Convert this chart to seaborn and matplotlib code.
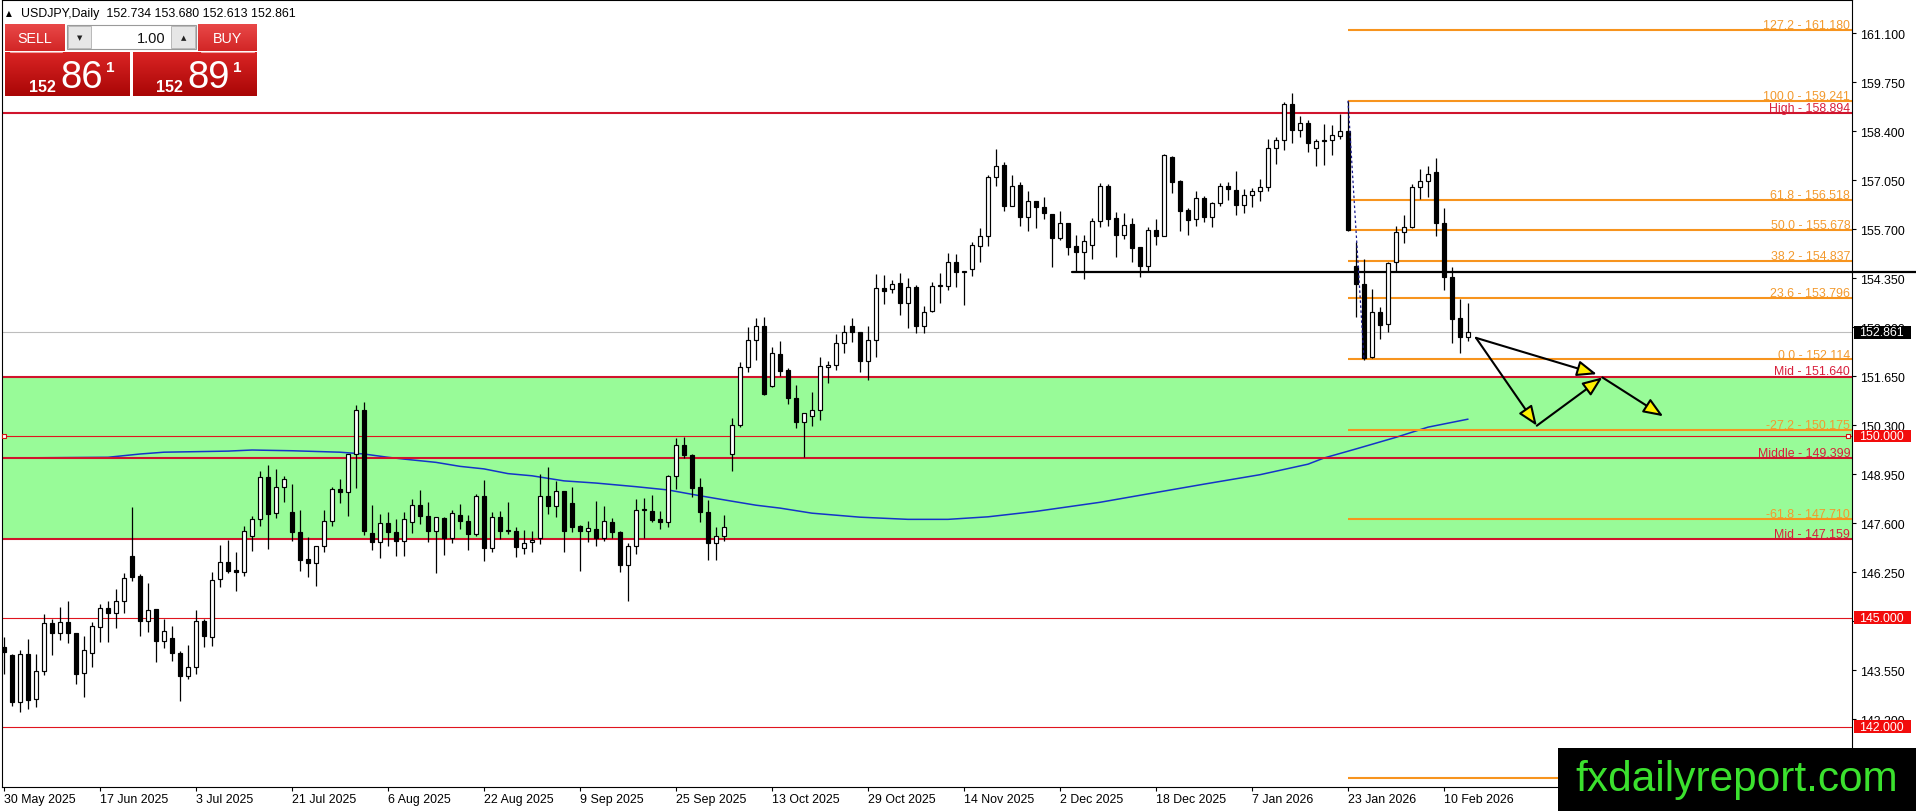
import numpy as np
import pandas as pd
import matplotlib
matplotlib.use("Agg")
import matplotlib.pyplot as plt
import matplotlib.transforms as mtransforms
from matplotlib.patches import Rectangle
from matplotlib.colors import LinearSegmentedColormap
import seaborn as sns

# ---------------- data ----------------
date_labels = ["30 May 2025", "17 Jun 2025", "3 Jul 2025", "21 Jul 2025", "6 Aug 2025",
               "22 Aug 2025", "9 Sep 2025", "25 Sep 2025", "13 Oct 2025", "29 Oct 2025",
               "14 Nov 2025", "2 Dec 2025", "18 Dec 2025", "7 Jan 2026", "23 Jan 2026",
               "10 Feb 2026"]

opens = [144.18, 143.97, 142.69, 143.99, 142.76, 143.52, 144.855, 144.57, 144.87, 144.57,
         143.47, 144.02, 144.735, 145.26, 145.12, 145.45, 146.71, 146.16, 144.92, 145.24,
         144.37, 144.43, 144.02, 143.40, 143.63, 144.90, 144.46, 146.07, 146.545, 146.32,
         146.25, 147.24, 147.72, 148.87, 147.88, 148.59, 147.90, 147.35, 146.62, 146.50,
         146.985, 147.655, 148.55, 148.455, 149.51, 150.73, 147.325, 147.08, 147.60, 147.35,
         147.10, 147.63, 148.115, 147.81, 147.38, 147.76, 147.20, 147.84, 147.655, 147.31,
         148.36, 146.91, 147.77, 147.39, 147.38, 146.91, 147.08, 147.19, 148.34, 148.09,
         148.48, 148.16, 147.54, 147.38, 147.44, 147.19, 147.63, 147.37, 146.46, 146.97,
         147.98, 147.93, 147.72, 147.63, 148.895, 149.77, 149.49, 148.59, 147.90, 147.05,
         147.24, 149.51, 150.32, 151.90, 152.66, 153.05, 151.39, 152.26, 151.82, 151.04,
         150.40, 150.55, 150.73, 151.90, 151.96, 152.56, 153.03, 152.88, 152.08, 152.65,
         154.075, 154.06, 154.21, 153.66, 154.10, 153.05, 153.46, 154.13, 154.13, 154.79,
         154.53, 154.61, 155.25, 155.51, 157.13, 157.47, 156.35, 156.92, 156.03, 156.47,
         156.31, 156.12, 155.45, 155.875, 155.23, 155.085, 155.28, 155.92, 156.90, 156.00,
         155.55, 155.85, 155.20, 154.70, 155.68, 155.525, 157.70, 157.02, 156.23, 155.985,
         156.56, 156.03, 156.42, 156.885, 156.78, 156.38, 156.655, 156.75, 156.86, 157.93,
         158.16, 159.15, 158.44, 158.62, 157.93, 158.13, 158.16, 158.28, 158.40, 154.70,
         154.19, 152.17, 153.41, 153.09, 154.79, 155.62, 155.75, 156.86, 157.02, 157.27,
         155.865, 154.38, 153.25, 152.734]

highs = [144.46, 143.99, 144.12, 144.41, 143.99, 145.10, 144.965, 145.29, 145.47, 144.57,
         144.505, 144.89, 145.38, 145.45, 145.79, 146.23, 148.04, 146.20, 145.96, 145.24,
         144.965, 144.76, 144.09, 144.25, 145.22, 144.965, 146.25, 147.00, 147.15, 146.80,
         147.52, 147.79, 149.05, 149.21, 149.10, 148.895, 148.68, 147.97, 147.215, 146.985,
         147.97, 148.59, 148.82, 149.51, 150.86, 150.93, 148.105, 147.86, 147.90, 147.72,
         147.90, 148.27, 148.52, 148.18, 147.78, 147.78, 147.98, 148.13, 147.83, 148.41,
         148.79, 147.90, 147.95, 148.20, 147.49, 147.43, 147.38, 148.96, 149.14, 148.775,
         148.48, 148.59, 147.56, 147.655, 148.22, 148.07, 147.75, 147.38, 147.06, 148.27,
         148.29, 148.38, 147.93, 148.93, 149.94, 149.99, 149.51, 148.84, 148.24, 147.51,
         147.83, 150.50, 152.05, 153.00, 153.26, 153.28, 152.45, 152.615, 151.87, 151.41,
         150.65, 151.21, 152.17, 152.06, 152.82, 153.06, 153.26, 152.88, 153.05, 154.47,
         154.43, 154.30, 154.49, 154.35, 154.16, 153.60, 154.26, 154.50, 155.05, 155.02,
         154.56, 155.34, 155.74, 157.19, 157.91, 157.56, 157.20, 156.99, 156.765, 156.47,
         156.60, 156.12, 156.21, 155.875, 155.54, 155.53, 156.01, 156.98, 156.95, 156.17,
         156.14, 156.00, 155.20, 155.75, 155.985, 157.775, 157.73, 157.07, 156.28, 156.75,
         156.61, 156.46, 156.975, 156.99, 157.30, 156.81, 156.84, 157.09, 158.19, 158.23,
         159.20, 159.45, 158.83, 158.71, 158.19, 158.60, 158.56, 158.88, 159.24, 155.34,
         154.88, 154.06, 153.55, 154.79, 155.80, 156.09, 156.95, 157.36, 157.45, 157.66,
         156.30, 154.65, 153.78, 153.68]

lows = [143.45, 142.56, 142.39, 142.49, 142.53, 143.42, 143.98, 144.40, 144.30, 143.175,
        142.81, 143.63, 144.34, 144.34, 144.73, 145.12, 146.02, 144.51, 144.62, 143.77,
        144.16, 143.80, 142.70, 143.31, 143.45, 144.185, 144.23, 145.84, 146.22, 145.75,
        146.14, 146.85, 147.54, 146.89, 147.74, 148.20, 147.12, 146.30, 146.11, 145.865,
        146.82, 147.52, 148.16, 147.81, 148.57, 147.29, 146.875, 146.64, 146.985, 146.69,
        146.71, 147.33, 147.58, 147.095, 146.22, 146.74, 147.06, 147.44, 146.875, 147.26,
        146.57, 146.82, 147.17, 147.31, 146.66, 146.755, 146.80, 147.03, 147.86, 147.765,
        146.82, 147.37, 146.30, 147.095, 146.985, 147.12, 147.21, 146.27, 145.47, 146.755,
        147.19, 147.645, 147.44, 147.51, 148.55, 149.40, 148.32, 147.645, 146.59, 146.59,
        147.12, 149.05, 150.245, 151.76, 152.11, 151.13, 151.35, 151.65, 150.89, 150.22,
        149.42, 150.27, 150.46, 151.47, 151.83, 152.28, 152.59, 151.76, 151.56, 152.17,
        153.64, 153.94, 153.34, 152.97, 152.835, 152.84, 153.43, 153.66, 154.04, 154.12,
        153.625, 154.42, 154.81, 155.23, 156.885, 156.21, 156.33, 155.80, 155.66, 155.73,
        155.985, 154.67, 155.415, 155.00, 154.53, 154.33, 154.88, 155.755, 155.80, 154.95,
        155.43, 154.81, 154.40, 154.56, 155.28, 155.51, 156.70, 155.66, 155.55, 155.78,
        155.91, 155.755, 156.33, 156.51, 156.10, 156.15, 156.31, 156.47, 156.76, 157.50,
        157.89, 158.08, 158.23, 157.82, 157.435, 157.48, 157.75, 158.19, 155.66, 153.29,
        152.11, 152.15, 152.68, 152.86, 154.54, 155.31, 155.74, 156.535, 156.60, 155.525,
        154.04, 152.56, 152.28, 152.613]

closes = [144.05, 142.69, 143.99, 142.74, 143.52, 144.855, 144.57, 144.87, 144.57, 143.45,
          144.11, 144.76, 145.26, 145.12, 145.45, 146.09, 146.13, 144.92, 145.22, 144.37,
          144.63, 144.02, 143.40, 143.63, 144.90, 144.49, 146.05, 146.545, 146.30, 146.25,
          147.40, 147.72, 148.87, 147.86, 148.59, 148.82, 147.35, 146.60, 146.50, 146.985,
          147.655, 148.55, 148.455, 149.51, 150.73, 147.40, 147.08, 147.60, 147.35, 147.10,
          147.72, 148.115, 147.81, 147.38, 147.78, 147.20, 147.875, 147.655, 147.31, 148.36,
          146.91, 147.77, 147.40, 147.41, 146.94, 147.05, 147.14, 148.34, 148.09, 148.48,
          147.40, 147.51, 147.38, 147.46, 147.19, 147.655, 147.37, 146.46, 146.97, 147.98,
          147.99, 147.70, 147.63, 148.895, 149.77, 149.49, 148.57, 147.90, 147.05, 147.24,
          147.49, 150.32, 151.90, 152.66, 153.045, 151.16, 152.28, 151.81, 151.04, 150.40,
          150.63, 150.73, 151.93, 151.95, 152.56, 152.86, 152.86, 152.08, 152.65, 154.075,
          154.01, 154.19, 153.66, 154.10, 153.05, 153.41, 154.13, 154.15, 154.79, 154.53,
          154.54, 155.27, 155.51, 157.13, 157.45, 156.35, 156.90, 156.03, 156.47, 156.31,
          156.14, 155.45, 155.865, 155.22, 155.085, 155.37, 155.92, 156.885, 155.985, 155.55,
          155.82, 155.19, 154.70, 155.68, 155.525, 157.75, 157.01, 156.21, 155.965, 156.56,
          156.03, 156.42, 156.885, 156.81, 156.38, 156.655, 156.745, 156.86, 157.93, 158.16,
          159.15, 158.445, 158.62, 158.07, 158.12, 158.15, 158.30, 158.40, 155.68, 154.19,
          152.155, 153.41, 153.07, 154.76, 155.62, 155.75, 156.86, 157.02, 157.22, 155.865,
          154.38, 153.23, 152.72, 152.861]

ma_bars = [0, 13, 17, 20, 28, 31, 36, 42, 45, 48, 50, 54, 57, 60, 63, 66, 70, 74, 79, 83,
           87, 91, 94, 97, 101, 107, 113, 118, 123, 129, 137, 144, 150, 157, 163, 165, 169,
           174, 178, 183]
ma_values = [149.40, 149.42, 149.51, 149.56, 149.59, 149.62, 149.60, 149.56, 149.51, 149.42,
             149.37, 149.28, 149.17, 149.10, 148.97, 148.91, 148.77, 148.71, 148.61, 148.52,
             148.36, 148.21, 148.10, 148.02, 147.88, 147.77, 147.71, 147.71, 147.78, 147.93,
             148.18, 148.45, 148.68, 148.94, 149.23, 149.40, 149.65, 149.97, 150.25, 150.47]

fib_levels = [161.180, 159.241, 156.518, 155.678, 154.837, 153.796, 152.114, 150.175, 147.710, 140.580]
fib_labels = ["127.2 - 161.180", "100.0 - 159.241", "61.8 - 156.518", "50.0 - 155.678",
              "38.2 - 154.837", "23.6 - 153.796", "0.0 - 152.114", "-27.2 - 150.175",
              "-61.8 - 147.710", ""]
fib_anchor_bar = 168
fib_swing_bars = [168, 170]
fib_swing_prices = [159.241, 152.114]

zone_levels = [158.894, 151.640, 149.399, 147.159]
zone_labels = ["High - 158.894", "Mid - 151.640", "Middle - 149.399", "Mid - 147.159"]
round_levels = [150.000, 145.000, 142.000]
round_labels = ["150.000", "145.000", "142.000"]
support_level = 154.53
support_start_bar = 133.5
last_price = 152.861
last_label = "152.861"

price_ticks = [161.100, 159.750, 158.400, 157.050, 155.700, 154.350, 153.000, 151.650,
               150.300, 148.950, 147.600, 146.250, 144.900, 143.550, 142.200, 140.850]
price_tick_labels = ["161.100", "159.750", "158.400", "157.050", "155.700", "154.350",
                     "153.000", "151.650", "150.300", "148.950", "147.600", "146.250",
                     "", "143.550", "142.200", ""]

arrow_from = [(184.0, 152.71), (184.0, 152.71), (191.6, 150.29), (199.8, 151.62)]
arrow_to = [(199.1, 151.71), (191.6, 150.29), (199.8, 151.62), (207.4, 150.55)]

header_text = "USDJPY,Daily  152.734 153.680 152.613 152.861"

# ---------------- style ----------------
sns.set_theme(style="white")
plt.rcParams['font.family'] = ['Liberation Sans', 'DejaVu Sans']

W, H = 1916, 812
fig = plt.figure(figsize=(W / 100, H / 100), dpi=100)
fig.patch.set_facecolor('white')

AX_L, AX_R, AX_T, AX_B = 2, 1852, 1, 788
ax = fig.add_axes([AX_L / W, 1 - AX_B / H, (AX_R - AX_L) / W, (AX_B - AX_T) / H])
ax.set_facecolor('white')

X0, X1 = -0.25, 231.0
Y0, Y1 = 140.337, 162.017
px_x = (AX_R - AX_L) / (X1 - X0)   # pixels per bar
px_y = (AX_B - AX_T) / (Y1 - Y0)   # pixels per price unit

FS = 8.9
RED = '#D0142C'
RED_TXT = '#D81E3A'
ORANGE = '#F7941E'
ORANGE_TXT = '#F39A2E'

df = pd.DataFrame({'open': opens, 'high': highs, 'low': lows, 'close': closes})
df['bar'] = np.arange(len(df))

# green zone
ax.axhspan(zone_levels[3], zone_levels[1], color='#98FB98', zorder=0.6, lw=0)

# moving average (under the level lines)
sns.lineplot(x=ma_bars, y=ma_values, ax=ax, color='#1434C8', linewidth=1.1,
             zorder=1.9, sort=False)

# zone lines
ax.hlines(zone_levels, X0, X1, colors=RED, lw=1.5, zorder=2)
ax.hlines(round_levels, X0, X1, colors='#E0141E', lw=0.8, zorder=2)
ax.axhline(last_price, color='#BDBDBD', lw=0.8, zorder=1.8)

# fib lines
ax.hlines(fib_levels, fib_anchor_bar, X1, colors=ORANGE, lw=1.5, zorder=2.2)
ax.plot(fib_swing_bars, fib_swing_prices, color='#1a1a8c', lw=0.9, ls=(0, (2, 2)), zorder=6)

# support line
ax.plot([support_start_bar, X1 + (W - AX_R) / px_x], [support_level, support_level],
        color='black', lw=1.6, zorder=2.4, clip_on=False)

# candles
up = df['close'] >= df['open']
lo = np.minimum(df['open'], df['close'])
hi = np.maximum(df['open'], df['close'])
hgt = np.maximum(hi - lo, 0.025)
ax.vlines(df['bar'], df['low'], df['high'], color='black', lw=0.9, zorder=3)
ax.bar(df['bar'][up], hgt[up], bottom=lo[up], width=0.5, color='white',
       edgecolor='black', linewidth=0.85, zorder=4)
ax.bar(df['bar'][~up], hgt[~up], bottom=lo[~up], width=0.5, color='black',
       edgecolor='black', linewidth=0.85, zorder=4)

# arrows
for (x0, y0), (x1, y1) in zip(arrow_from, arrow_to):
    ax.annotate('', xy=(x1, y1), xytext=(x0, y0), xycoords='data', textcoords='data',
                annotation_clip=False, zorder=7,
                arrowprops=dict(arrowstyle='-|>,head_length=1.0,head_width=0.4',
                                fc='#FFF000', ec='black', lw=1.5,
                                shrinkA=0, shrinkB=0))

ax.set_xlim(X0, X1)
ax.set_ylim(Y0, Y1)

blend = mtransforms.blended_transform_factory(ax.transAxes, ax.transData)

# 150 line end markers
ax.plot([0.001, 0.998], [round_levels[0]] * 2, 's', transform=blend, ms=3.2,
        mfc='white', mec='#D01010', mew=0.8, clip_on=False, zorder=6)

# level labels
for lv, lb in zip(fib_levels, fib_labels):
    if not lb:
        continue
    ax.annotate(lb, xy=(1, lv), xycoords=blend, xytext=(-1.3, 1.4), textcoords='offset points',
                ha='right', va='baseline', color=ORANGE_TXT, fontsize=FS, zorder=6,
                annotation_clip=False)
for lv, lb in zip(zone_levels, zone_labels):
    ax.annotate(lb, xy=(1, lv), xycoords=blend, xytext=(-1.3, 1.6), textcoords='offset points',
                ha='right', va='baseline', color=RED_TXT, fontsize=FS, zorder=6,
                annotation_clip=False)

# price boxes on axis
ax_w_px = AX_R - AX_L
box_w = 57 / ax_w_px
box_h = 12.5 / px_y
def price_box(val, text, fc):
    ax.add_patch(Rectangle((1 + 1.5 / ax_w_px, val - box_h / 2), box_w, box_h, transform=blend,
                           fc=fc, ec='none', clip_on=False, zorder=8))
    ax.text(1 + 7 / ax_w_px, val, text, transform=blend, ha='left', va='center',
            color='white', fontsize=FS, zorder=9, clip_on=False)

for lv, lb in zip(round_levels, round_labels):
    price_box(lv, lb, '#F20C0C')
price_box(last_price, last_label, 'black')

# axes / ticks
ax.set_yticks(price_ticks)
ax.set_yticklabels(price_tick_labels)
ax.yaxis.tick_right()
ax.tick_params(axis='y', direction='out', length=3, width=0.8, pad=3, labelsize=FS,
               colors='black', right=True, left=False)
tick_pos = [12 * i for i in range(len(date_labels))]
ax.set_xticks(tick_pos)
ax.set_xticklabels(date_labels)
for t in ax.get_xticklabels():
    t.set_horizontalalignment('left')
ax.tick_params(axis='x', direction='out', length=3, width=0.8, pad=1.5, labelsize=FS,
               colors='black', bottom=True)
ax.grid(False)
for s in ax.spines.values():
    s.set_visible(True)
    s.set_color('black')
    s.set_linewidth(0.8)
ax.set_xlabel('')
ax.set_ylabel('')

# ---------------- overlay (pixel coords) ----------------
ov = fig.add_axes([0, 0, 1, 1], zorder=20)
ov.set_xlim(0, W)
ov.set_ylim(H, 0)
ov.axis('off')

def grad_box(x0, y0, x1, y1, top, bottom):
    g = np.linspace(0, 1, 64).reshape(-1, 1)
    cm = LinearSegmentedColormap.from_list('g', [top, bottom])
    ov.imshow(g, extent=(x0, x1, y1, y0), cmap=cm, aspect='auto', zorder=2,
              interpolation='bilinear')

# header
ov.text(8.5, 13.5, '\u25B2', fontsize=5.5, ha='center', va='center', color='black',
        family='DejaVu Sans', zorder=3)
ov.text(21, 17.5, header_text, fontsize=FS, ha='left', va='baseline', color='black', zorder=3)

# trading panel
grad_box(5, 25, 65, 52, '#E94848', '#D22626')
grad_box(198, 25, 257, 52, '#E94848', '#D22626')
grad_box(5, 53, 130, 97, '#DA2424', '#A90606')
grad_box(133, 53, 257, 97, '#DA2424', '#A90606')
ov.add_patch(Rectangle((67.5, 25.5), 129, 24.5, fc='white', ec='#9A9A9A', lw=0.8, zorder=3))
ov.add_patch(Rectangle((68.5, 26.5), 23, 22.5, fc='#E6E6E6', ec='#B0B0B0', lw=0.6, zorder=3))
ov.add_patch(Rectangle((171.5, 26.5), 24, 22.5, fc='#E6E6E6', ec='#B0B0B0', lw=0.6, zorder=3))
ov.text(80, 38, '\u25BC', fontsize=5, ha='center', va='center', color='#222222',
        family='DejaVu Sans', zorder=4)
ov.text(183.5, 38, '\u25B2', fontsize=5, ha='center', va='center', color='#222222',
        family='DejaVu Sans', zorder=4)
ov.text(166, 39, '1.00', fontsize=10.5, ha='right', va='center', color='#111111', zorder=4)
ov.text(35, 39, 'SELL', fontsize=10.3, ha='center', va='center', color='white', zorder=4)
ov.text(227.5, 39, 'BUY', fontsize=10.3, ha='center', va='center', color='white', zorder=4)
ov.plot([10, 62], [52.5, 52.5], color='#F2A0A0', lw=0.8, zorder=4)
ov.plot([201, 254], [52.5, 52.5], color='#F2A0A0', lw=0.8, zorder=4)

ov.text(29, 91.5, '152', fontsize=11.5, fontweight='bold', ha='left', va='baseline',
        color='white', zorder=4)
ov.text(60, 88, '86', fontsize=27.5, ha='left', va='baseline', color='white', zorder=4)
ov.text(106, 71.5, '1', fontsize=11, fontweight='bold', ha='left', va='baseline',
        color='white', zorder=4)
ov.text(156, 91.5, '152', fontsize=11.5, fontweight='bold', ha='left', va='baseline',
        color='white', zorder=4)
ov.text(187, 88, '89', fontsize=27.5, ha='left', va='baseline', color='white', zorder=4)
ov.text(233, 71.5, '1', fontsize=11, fontweight='bold', ha='left', va='baseline',
        color='white', zorder=4)

# watermark
ov.add_patch(Rectangle((1558, 749), W - 1558, H - 749, fc='black', ec='none', zorder=5))
ov.text(1575, 791.5, 'fxdailyreport.com', fontsize=30.5, ha='left', va='baseline',
        color='#3BE12E', family='Liberation Sans', zorder=6)

ov.set_xlim(0, W)
ov.set_ylim(H, 0)

fig.savefig('out.png', dpi=100, facecolor='white')
